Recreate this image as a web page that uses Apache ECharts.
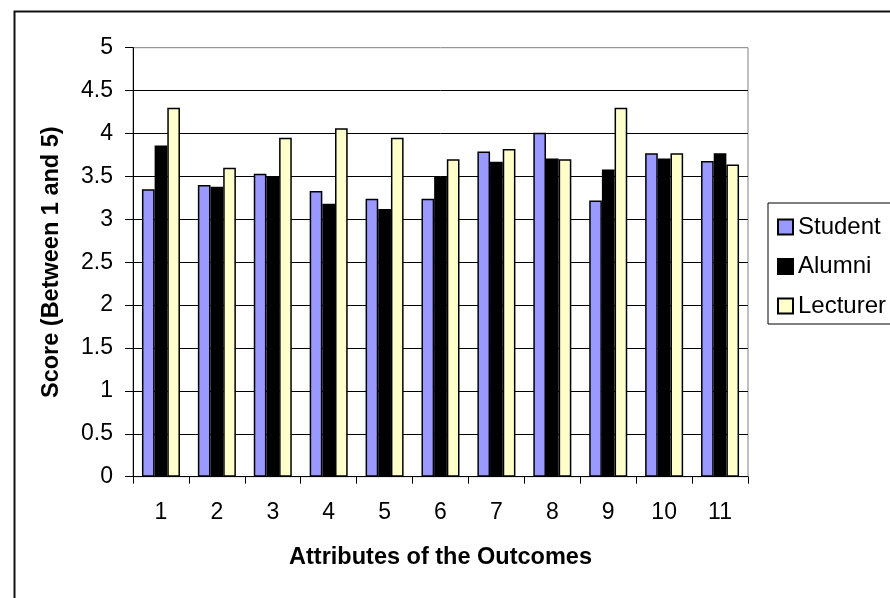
<!DOCTYPE html>
<html>
<head>
<meta charset="utf-8">
<script src="https://cdn.jsdelivr.net/npm/echarts@6/dist/echarts.min.js"></script>
<style>
  html, body { margin: 0; padding: 0; background: #ffffff; }
  #chart { width: 890px; height: 598px; }
</style>
</head>
<body>
<div id="chart"></div>
<script>
// Outcome attribute numbers along the category axis
const attributes = ['1', '2', '3', '4', '5', '6', '7', '8', '9', '10', '11'];

// Mean scores per respondent group
const studentScores  = [3.35, 3.40, 3.53, 3.33, 3.24, 3.24, 3.79, 4.01, 3.22, 3.77, 3.68];
const alumniScores   = [3.86, 3.38, 3.50, 3.18, 3.12, 3.50, 3.67, 3.71, 3.58, 3.71, 3.77];
const lecturerScores = [4.30, 3.60, 3.95, 4.06, 3.95, 3.70, 3.82, 3.70, 4.30, 3.77, 3.64];

const seriesNames = ['Student', 'Alumni', 'Lecturer'];
const seriesColors = ['#9999FF', '#000000', '#FFFFCC'];
const seriesValues = [studentScores, alumniScores, lecturerScores];

const FONT = 'Arial, "Liberation Sans", sans-serif';

const chart = echarts.init(document.getElementById('chart'), null, { renderer: 'canvas' });

chart.setOption({
  animation: false,
  backgroundColor: '#ffffff',
  textStyle: { fontFamily: FONT, color: '#000' },
  graphic: [{
    type: 'rect',
    left: 12, top: 9,
    shape: { width: 1000, height: 1000 },
    style: { fill: 'none', stroke: '#111', lineWidth: 2 },
    silent: true,
    z: -10
  }],
  grid: {
    left: 133, right: 142, top: 47.7, bottom: 121.3,
    show: true,
    borderColor: '#808080',
    borderWidth: 1,
    backgroundColor: 'transparent'
  },
  legend: {
    orient: 'vertical',
    left: 768, top: 203,
    padding: [12, 5, 6, 9],
    itemWidth: 15, itemHeight: 15,
    itemGap: 15.5,
    borderColor: '#000', borderWidth: 1,
    backgroundColor: '#fff',
    icon: 'rect',
    textStyle: { fontFamily: FONT, fontSize: 24, color: '#000' },
    data: seriesNames
  },
  xAxis: {
    type: 'category',
    data: attributes,
    name: 'Attributes of the Outcomes',
    nameLocation: 'middle',
    nameGap: 69,
    nameTextStyle: { fontFamily: FONT, fontSize: 23.5, fontWeight: 'bold', color: '#000' },
    axisLine: { show: true, lineStyle: { color: '#000', width: 1 } },
    axisTick: { show: true, alignWithLabel: false, length: 7, lineStyle: { color: '#000' } },
    axisLabel: { fontFamily: FONT, fontSize: 23, color: '#000', margin: 24 },
    splitLine: { show: false }
  },
  yAxis: {
    type: 'value',
    min: 0, max: 5, interval: 0.5,
    name: 'Score (Between 1 and 5)',
    nameLocation: 'middle',
    nameGap: 69,
    nameRotate: 90,
    nameTextStyle: { fontFamily: FONT, fontSize: 23.5, fontWeight: 'bold', color: '#000' },
    axisLine: { show: true, lineStyle: { color: '#000', width: 1 } },
    axisTick: { show: true, length: 8, lineStyle: { color: '#000' } },
    axisLabel: { fontFamily: FONT, fontSize: 23, color: '#000', margin: 20 },
    splitLine: { show: true, showMaxLine: false, lineStyle: { color: '#000', width: 1 } }
  },
  series: seriesNames.map((name, i) => ({
    name: name,
    type: 'bar',
    data: seriesValues[i],
    barGap: '0%',
    barCategoryGap: '32%',
    itemStyle: { color: seriesColors[i], borderColor: '#000', borderWidth: 1.5 }
  }))
});
</script>
</body>
</html>
